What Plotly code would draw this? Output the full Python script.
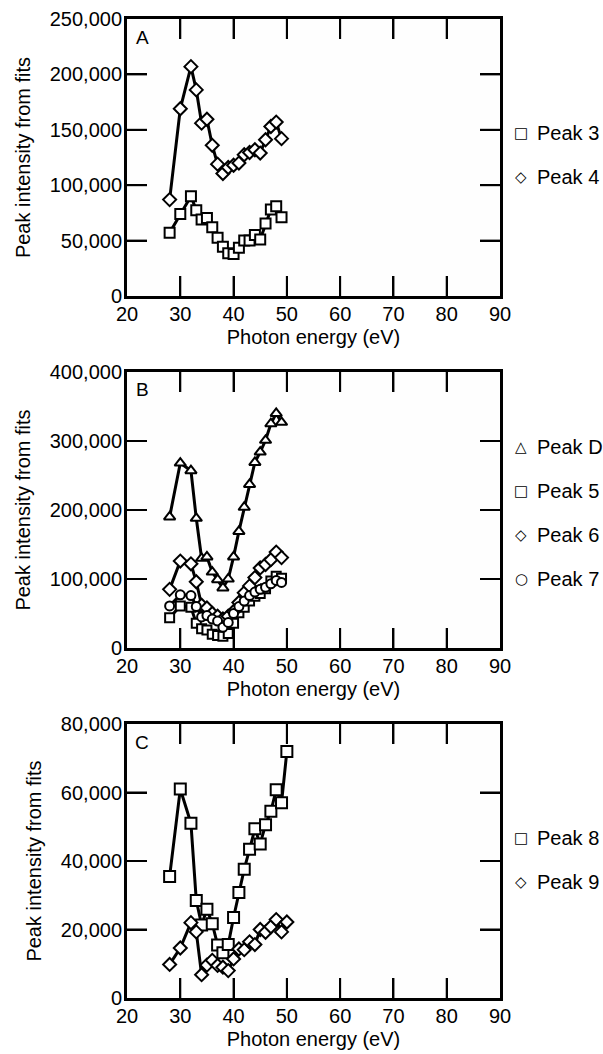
import plotly.graph_objects as go

# ---- Panel A: peaks 3 and 4 ----
energy_a = [28, 30, 32, 33, 34, 35, 36, 37, 38, 39, 40, 41, 42, 43, 44, 45, 46, 47, 48, 49]
peak3 = [57000, 74000, 90000, 77500, 69000, 70500, 62000, 52500, 44500, 38500,
         38000, 43500, 50000, 50000, 55000, 51000, 65500, 78000, 81000, 71000]
peak4 = [87000, 169000, 207000, 186000, 156000, 159500, 136000, 119000, 110500, 116000,
         118000, 120000, 127500, 129500, 132000, 129000, 141000, 153000, 157000, 142000]

# ---- Panel B: peaks D, 5, 6 and 7 ----
energy_b = [28, 30, 32, 33, 34, 35, 36, 37, 38, 39, 40, 41, 42, 43, 44, 45, 46, 47, 48, 49]
peakD = [190000, 268000, 257000, 188000, 130000, 132000, 110000, 99000, 87000, 100000,
         132000, 169000, 204000, 237000, 269000, 284000, 301000, 325000, 340000, 327000]
peak5 = [44000, 61000, 59000, 36000, 28000, 26000, 20000, 18000, 17000, 21000,
         36000, 51000, 59000, 68000, 75000, 79000, 86000, 97000, 104000, 101000]
peak6 = [85000, 126000, 122000, 96000, 62000, 58000, 50000, 46000, 42000, 46000,
         53000, 66000, 80000, 90000, 102000, 116000, 121000, 128000, 139000, 131000]
peak7 = [61000, 77000, 76000, 60000, 45000, 47000, 42000, 39000, 30000, 37000,
         50000, 60000, 68000, 76000, 81000, 85000, 88000, 93000, 98000, 95000]

# ---- Panel C: peaks 8 and 9 ----
energy_c = [28, 30, 32, 33, 34, 35, 36, 37, 38, 39, 40, 41, 42, 43, 44, 45, 46, 47, 48, 49, 50]
peak8 = [35500, 61000, 51000, 28500, 21300, 25900, 21700, 15500, 13200, 15600, 23500,
         30800, 37600, 43400, 49400, 45000, 50600, 54500, 60800, 57000, 72000]
peak9 = [9800, 14600, 22000, 19300, 6800, 9600, 11000, 9500, 9000, 8000, 11400,
         14300, 14100, 16400, 15600, 20000, 19200, 20800, 22900, 19300, 22200]

panel_letters = ["A", "B", "C"]
x_range = (20, 90, 10)
y_ranges = [(0, 250000, 50000), (0, 400000, 100000), (0, 80000, 20000)]
x_title = "Photon energy (eV)"
y_title = "Peak intensity from fits"

W, H = 603, 1054
X0, X1 = 127, 500                                # plot area left / right (px)
TOP, BOTTOM = 19, 998                            # plot area top / bottom (px)
panel_px = [(19, 296), (372, 648), (724, 998)]   # each panel's top, bottom (px)
legend_first_item = [133, 447, 838]              # y of the first legend entry (px)
TICK_LEN = 20

FONT = "Liberation Sans, Arial, Helvetica, sans-serif"
BLACK = "#000000"
PW, PH = X1 - X0, BOTTOM - TOP

# legend key glyphs for each marker symbol
KEY_GLYPH = {"square": "\u25a1", "diamond": "\u25c7", "triangle-up": "\u25b3", "circle": "\u25cb"}


def px_x(px):
    return (px - X0) / PW


def px_y(py):
    return (BOTTOM - py) / PH


series = [
    # x, y, name, symbol, marker size, panel
    (energy_a, peak3, "Peak 3", "square", 10, 1),
    (energy_a, peak4, "Peak 4", "diamond", 10, 1),
    (energy_b, peakD, "Peak D", "triangle-up", 10, 2),
    (energy_b, peak5, "Peak 5", "square", 9, 2),
    (energy_b, peak6, "Peak 6", "diamond", 10, 2),
    (energy_b, peak7, "Peak 7", "circle", 9, 2),
    (energy_c, peak8, "Peak 8", "square", 11, 3),
    (energy_c, peak9, "Peak 9", "diamond", 10, 3),
]


def sfx(row):
    return "" if row == 1 else str(row)


fig = go.Figure()

# connecting lines first, so the white-filled markers sit on top of them
for x, y, name, symbol, size, row in series:
    fig.add_trace(go.Scatter(
        x=x, y=y, mode="lines", showlegend=False, hoverinfo="skip",
        line=dict(color=BLACK, width=3),
        xaxis="x" + sfx(row), yaxis="y" + sfx(row),
    ))

for x, y, name, symbol, size, row in series:
    fig.add_trace(go.Scatter(
        x=x, y=y, name=name, mode="markers", showlegend=False,
        marker=dict(symbol=symbol, size=size, color="white",
                    line=dict(color=BLACK, width=2)),
        xaxis="x" + sfx(row), yaxis="y" + sfx(row),
    ))

axis_common = dict(
    showline=True, linecolor=BLACK, linewidth=3, mirror="allticks",
    ticks="inside", ticklen=TICK_LEN, tickwidth=2, tickcolor=BLACK,
    showgrid=False, zeroline=False, automargin=False,
    tickfont=dict(family=FONT, size=20, color=BLACK),
)

annotations = []
shapes = []
layout = dict(
    width=W, height=H,
    margin=dict(l=X0, r=W - X1, t=TOP, b=H - BOTTOM, autoexpand=False),
    paper_bgcolor="white", plot_bgcolor="#fefefe",
    font=dict(family=FONT, size=20, color=BLACK),
    showlegend=False,
)

tick_line = dict(color=BLACK, width=2)
x0, x1, dx = x_range

for i, ((top, bot), (y0, y1, dy), letter) in enumerate(zip(panel_px, y_ranges, panel_letters)):
    s = sfx(i + 1)
    layout["xaxis" + s] = dict(
        axis_common, domain=[0, 1], range=[x0, x1], tick0=x0, dtick=dx,
        anchor="y" + s, ticklabelstandoff=-2,
        title=dict(text=x_title, font=dict(family=FONT, size=20, color=BLACK), standoff=6),
    )
    layout["yaxis" + s] = dict(
        axis_common, domain=[px_y(bot), px_y(top)], range=[y0, y1], tick0=0, dtick=dy,
        tickformat=",d", anchor="x" + s, ticklabelstandoff=-2,
        title=dict(text=y_title, font=dict(family=FONT, size=20, color=BLACK), standoff=14),
    )
    annotations.append(dict(
        text=letter, x=px_x(X0 + 15), y=px_y(top + 18),
        xref="paper", yref="paper", xanchor="center", yanchor="middle",
        showarrow=False, font=dict(family=FONT, size=19, color=BLACK),
    ))

    # inward tick marks on all four sides of the frame, at the axis tick values
    for v in range(x0 + dx, x1, dx):
        for anchor, sign in ((0, 1), (1, -1)):
            shapes.append(dict(
                type="line", xref="x" + s, yref="y" + s + " domain",
                x0=v, x1=v, ysizemode="pixel", yanchor=anchor,
                y0=0, y1=sign * TICK_LEN, line=tick_line,
            ))
    for v in range(y0 + dy, y1, dy):
        for anchor, sign in ((0, 1), (1, -1)):
            shapes.append(dict(
                type="line", xref="x" + s + " domain", yref="y" + s,
                y0=v, y1=v, xsizemode="pixel", xanchor=anchor,
                x0=0, x1=sign * TICK_LEN, line=tick_line,
            ))

# legend entries beside each panel: key glyph + series name
for i in range(3):
    names = [(n, sym) for _, _, n, sym, _, row in series if row == i + 1]
    for k, (name, sym) in enumerate(names):
        yk = legend_first_item[i] + 44 * k
        annotations.append(dict(
            text=KEY_GLYPH[sym], x=px_x(521), y=px_y(yk), xref="paper", yref="paper",
            xanchor="center", yanchor="middle", showarrow=False,
            font=dict(family="DejaVu Sans", size=15, color=BLACK),
        ))
        annotations.append(dict(
            text=name, x=px_x(535), y=px_y(yk), xref="paper", yref="paper",
            xanchor="left", yanchor="middle", showarrow=False,
            font=dict(family=FONT, size=20, color=BLACK),
        ))

layout["annotations"] = annotations
layout["shapes"] = shapes
fig.update_layout(**layout)
fig.write_html("out.html")
